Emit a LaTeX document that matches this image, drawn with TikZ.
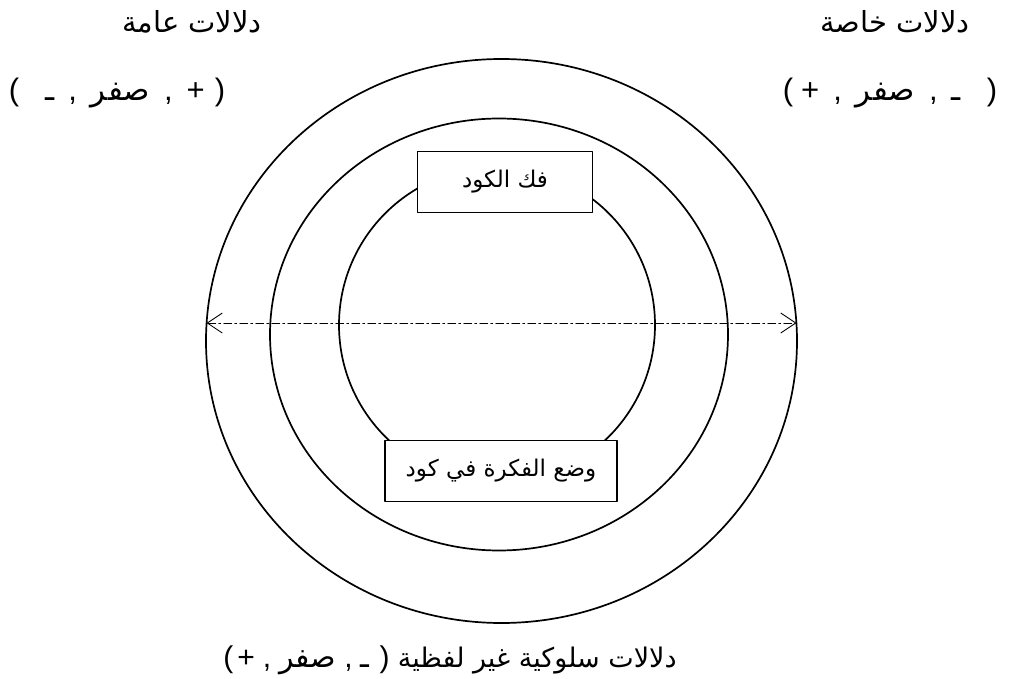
\documentclass[tikz,border=0pt]{standalone}
\usepackage{fontspec}
\setmainfont{Liberation Sans}
\newfontfamily\arabicfont[Script=Arabic]{DejaVu Sans}
\TeXXeTstate=1
\usetikzlibrary{arrows.meta}
\newcommand{\artext}[1]{{\arabicfont\beginR #1\endR}}

\begin{document}
\begin{tikzpicture}[x=1pt, y=-1pt, line join=round, line cap=round,
	font=\fontsize{24}{28}\selectfont,
	ring/.style={line width=1.7pt},
	codebox/.style={draw, line width=1.7pt, fill=white, inner sep=0pt, minimum height=61pt, font=\fontsize{23}{27}\selectfont},
	heading/.style={font=\fontsize{29}{33}\selectfont},
	signs/.style={font=\fontsize{31}{35}\selectfont},
	barb/.tip={Straight Barb[length=15pt, width=20pt]}]
	\def\ox{501.5} \def\oy{341} \def\orx{295.5} \def\ory{282} % outer
	\def\mx{499} \def\my{334.5} \def\mrx{229} \def\mry{216} % middle
	\def\ix{497} \def\iy{325} \def\ir{158} % inner

	\useasboundingbox (0,0) rectangle (1012,679);

	\draw[ring] (\ox,\oy) ellipse [x radius=\orx, y radius=\ory];
	\draw[ring] (\mx,\my) ellipse [x radius=\mrx, y radius=\mry];
	\draw[ring] (\ix,\iy) circle [radius=\ir];

	\coordinate (left) at (\ox-\orx+0.5,323);
	\coordinate (right) at (\ox+\orx-0.5,323);
	\draw[barb-barb, line width=0.9pt, dash pattern=on 8pt off 3pt on 2pt off 3pt] (left) -- (right);

	\node[codebox, minimum width=175pt] (decode) at (505,182) {\artext{فك الكود}};
	\node[codebox, minimum width=232pt] (encode) at (501,471) {\artext{وضع الفكرة في كود}};

	\node[heading] (general) at (192,22) {\artext{دلالات عامة}};
	\node[signs] (generalsign) at (117,93) {(\hspace{26pt}\artext{ـ}\hspace{14pt},\hspace{14pt}\artext{صفر}\hspace{14pt},\hspace{14pt}+\hspace{10pt})};
	\node[signs] (specialsign) at (890,93) {(\hspace{8pt}+\hspace{14pt},\hspace{14pt}\artext{صفر}\hspace{14pt},\hspace{14pt}\artext{ـ}\hspace{26pt})};
	\node[heading] (special) at (895,22) {\artext{دلالات خاصة}};
	\node[signs] (nonverbal) at (450,660) {\fontsize{30}{34}\selectfont(\hspace{4pt}+\hspace{8pt},\hspace{8pt}\artext{صفر}\hspace{8pt},\hspace{8pt}\artext{ـ}\hspace{10pt}) \artext{\fontsize{27}{31}\selectfont دلالات سلوكية غير لفظية}};
\end{tikzpicture}
\end{document}
